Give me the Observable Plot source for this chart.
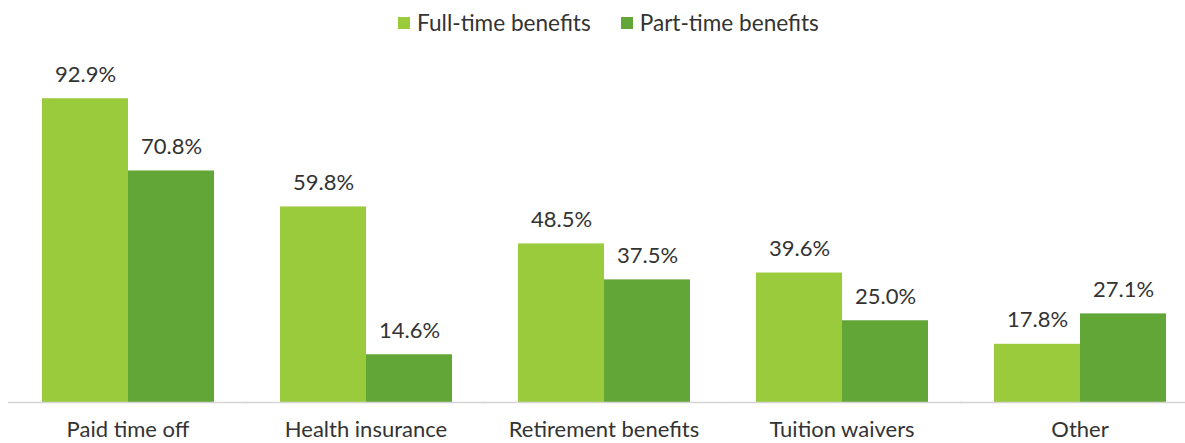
<!DOCTYPE html>
<html><head><meta charset="utf-8">
<script src="https://cdn.jsdelivr.net/npm/d3@7"></script>
<script src="https://cdn.jsdelivr.net/npm/@observablehq/plot@0.6"></script>
<style>
body{margin:0;background:#fff;font-family:Lato,sans-serif;color:#333;}
#legend{height:45px;display:flex;justify-content:center;align-items:center;padding-left:32px;box-sizing:border-box;font-size:22.6px;}
#legend .item{display:flex;align-items:center;margin:0 15px;}
#legend .sw{width:12px;height:12px;margin-right:7px;display:inline-block;}
</style></head><body>
<div id="legend"></div><div id="chart"></div>
<script>
const categories = ["Paid time off","Health insurance","Retirement benefits","Tuition waivers","Other"];
const series = ["Full-time benefits","Part-time benefits"];
const fullTime = [92.9,59.8,48.5,39.6,17.8];
const partTime = [70.8,14.6,37.5,25.0,27.1];
const colors = ["#9ACB3C","#63A638"];

const data = categories.flatMap((c,i)=>[
  {category:c, series:series[0], value:fullTime[i]},
  {category:c, series:series[1], value:partTime[i]}
]);

const legend = document.getElementById("legend");
series.forEach((s,i)=>{
  const it = document.createElement("div"); it.className="item";
  const sw = document.createElement("span"); sw.className="sw"; sw.style.background=colors[i];
  const t = document.createElement("span"); t.textContent=s;
  it.appendChild(sw); it.appendChild(t); legend.appendChild(it);
});

const chart = Plot.plot({
  width:1185, height:398, marginTop:30, marginBottom:41, marginLeft:8, marginRight:0,
  fx:{domain:categories, paddingInner:0.2727, paddingOuter:0.106, align:0.644, label:null, tickSize:0, tickPadding:19},
  x:{domain:series, axis:null, padding:0},
  y:{domain:[0,100], axis:null},
  color:{domain:series, range:colors},
  style:{fontFamily:"Lato, sans-serif", fontSize:"22px", color:"#333", background:"#fff"},
  marks:[
    Plot.barY(data,{fx:"category", x:"series", y:"value", fill:"series"}),
    Plot.text(data,{fx:"category", x:"series", y:"value", text:d=>d.value.toFixed(1)+"%", lineAnchor:"bottom", dy:-17, fontSize:22, fill:"#333"}),
    Plot.ruleY([0],{stroke:"#d4d4d4", strokeWidth:1.5, insetLeft:-33, insetRight:-33})
  ]
});
document.getElementById("chart").appendChild(chart);
</script>
</body></html>
